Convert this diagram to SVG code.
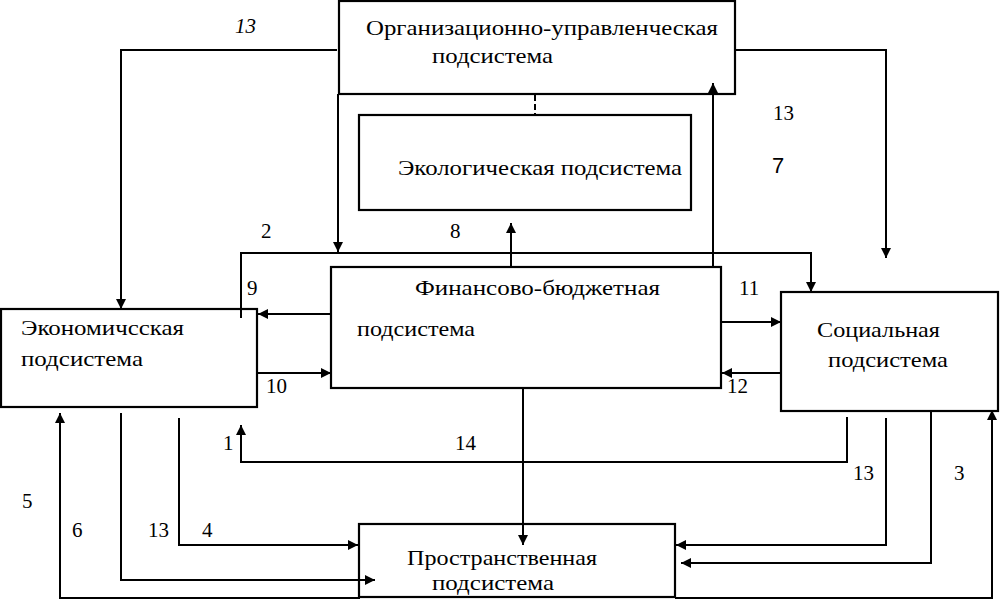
<svg xmlns="http://www.w3.org/2000/svg" width="1007" height="600" viewBox="0 0 1007 600">
<defs>
<marker id="ah" viewBox="0 0 10 10" refX="10" refY="5" markerWidth="10" markerHeight="10" markerUnits="userSpaceOnUse" orient="auto">
<path d="M0,0 L10,5 L0,10 z" fill="#000"/>
</marker>
</defs>
<style>
text{font-family:"Liberation Serif","DejaVu Serif","Times New Roman",serif;fill:#000}
.box{fill:#fff;stroke:#000;stroke-width:2.2}
.t{font-size:22px}
.l{font-size:21px}
.c{fill:none;stroke:#000;stroke-width:2}
.a{marker-end:url(#ah)}
</style>
<rect width="1007" height="600" fill="#fff"/>
<g id="org">
<rect class="box" x="339" y="1" width="396" height="93"/>
<text class="t" x="366" y="35" textLength="352" lengthAdjust="spacingAndGlyphs" style="font-family:'Liberation Serif',serif">Организационно-управленческая</text>
<text class="t" x="432" y="63" textLength="121" lengthAdjust="spacingAndGlyphs" style="font-family:'Liberation Serif',serif">подсистема</text>
</g>
<g id="eco">
<rect class="box" x="359" y="115" width="332" height="95"/>
<text class="t" x="398" y="175" textLength="284" lengthAdjust="spacingAndGlyphs" style="font-family:'Liberation Serif',serif">Экологическая подсистема</text>
</g>
<g id="fin">
<rect class="box" x="331" y="267" width="390" height="121"/>
<text class="t" x="415" y="295" textLength="245" lengthAdjust="spacingAndGlyphs" style="font-family:'Liberation Serif',serif">Финансово-бюджетная</text>
<text class="t" x="357" y="336" textLength="118" lengthAdjust="spacingAndGlyphs" style="font-family:'Liberation Serif',serif">подсистема</text>
</g>
<g id="econ">
<rect class="box" x="1" y="309" width="256" height="98"/>
<text class="t" x="21" y="335" textLength="163" lengthAdjust="spacingAndGlyphs" style="font-family:'Liberation Serif',serif">Экономичсская</text>
<text class="t" x="21" y="366" textLength="122" lengthAdjust="spacingAndGlyphs" style="font-family:'Liberation Serif',serif">подсистема</text>
</g>
<g id="social">
<rect class="box" x="781" y="292" width="217" height="119"/>
<text class="t" x="817" y="337" textLength="123" lengthAdjust="spacingAndGlyphs" style="font-family:'Liberation Serif',serif">Социальная</text>
<text class="t" x="828" y="367" textLength="120" lengthAdjust="spacingAndGlyphs" style="font-family:'Liberation Serif',serif">подсистема</text>
</g>
<g id="spatial">
<rect class="box" x="359" y="524" width="316" height="73"/>
<text class="t" x="407" y="565" textLength="190" lengthAdjust="spacingAndGlyphs" style="font-family:'Liberation Serif',serif">Пространственная</text>
<text class="t" x="432" y="590" textLength="122" lengthAdjust="spacingAndGlyphs" style="font-family:'Liberation Serif',serif">подсистема</text>
</g>
<g id="connectors">
<polyline class="c a" points="337,50 121,50 121,309"/>
<polyline class="c a" points="338,94 338,252"/>
<polyline class="c a" points="241,318 241,253 811,253 811,292"/>
<polyline class="c a" points="511,267 511,223"/>
<polyline class="c a" points="713,266 713,83"/>
<polyline class="c a" points="735,50 886,50 886,258"/>
<polyline class="c" stroke-dasharray="6,3" points="535,95 535,114"/>
<polyline class="c a" points="331,314 258,314"/>
<polyline class="c a" points="258,373 331,373"/>
<polyline class="c a" points="721,322 781,322"/>
<polyline class="c a" points="781,373 722,373"/>
<polyline class="c a" points="523,388 523,545"/>
<polyline class="c a" points="847,417 847,462 241,462 241,425"/>
<polyline class="c a" points="886,418 886,545 676,545"/>
<polyline class="c a" points="931,411 931,563 681,563"/>
<polyline class="c a" points="675,598 992,598 992,410"/>
<polyline class="c a" points="360,598 60,598 60,413"/>
<polyline class="c a" points="179,418 179,545 358,545"/>
<polyline class="c a" points="121,413 121,580 375,580"/>
</g>
<g id="labels" style="font-family:'Liberation Serif',serif">
<text class="l" x="235" y="33" font-style="italic">13</text>
<text class="l" x="773" y="120">13</text>
<text x="772" y="173" style="font-family:'Liberation Sans',Arial,sans-serif" font-size="22">7</text>
<text class="l" x="261" y="238">2</text>
<text class="l" x="450" y="238">8</text>
<text class="l" x="247" y="295">9</text>
<text class="l" x="739" y="295">11</text>
<text class="l" x="266" y="393">10</text>
<text class="l" x="727" y="393">12</text>
<text class="l" x="223" y="450">1</text>
<text class="l" x="455" y="450">14</text>
<text class="l" x="853" y="480">13</text>
<text class="l" x="954" y="480">3</text>
<text class="l" x="22" y="508">5</text>
<text class="l" x="72" y="537">6</text>
<text class="l" x="148" y="537">13</text>
<text class="l" x="202" y="537">4</text>
</g>
</svg>
